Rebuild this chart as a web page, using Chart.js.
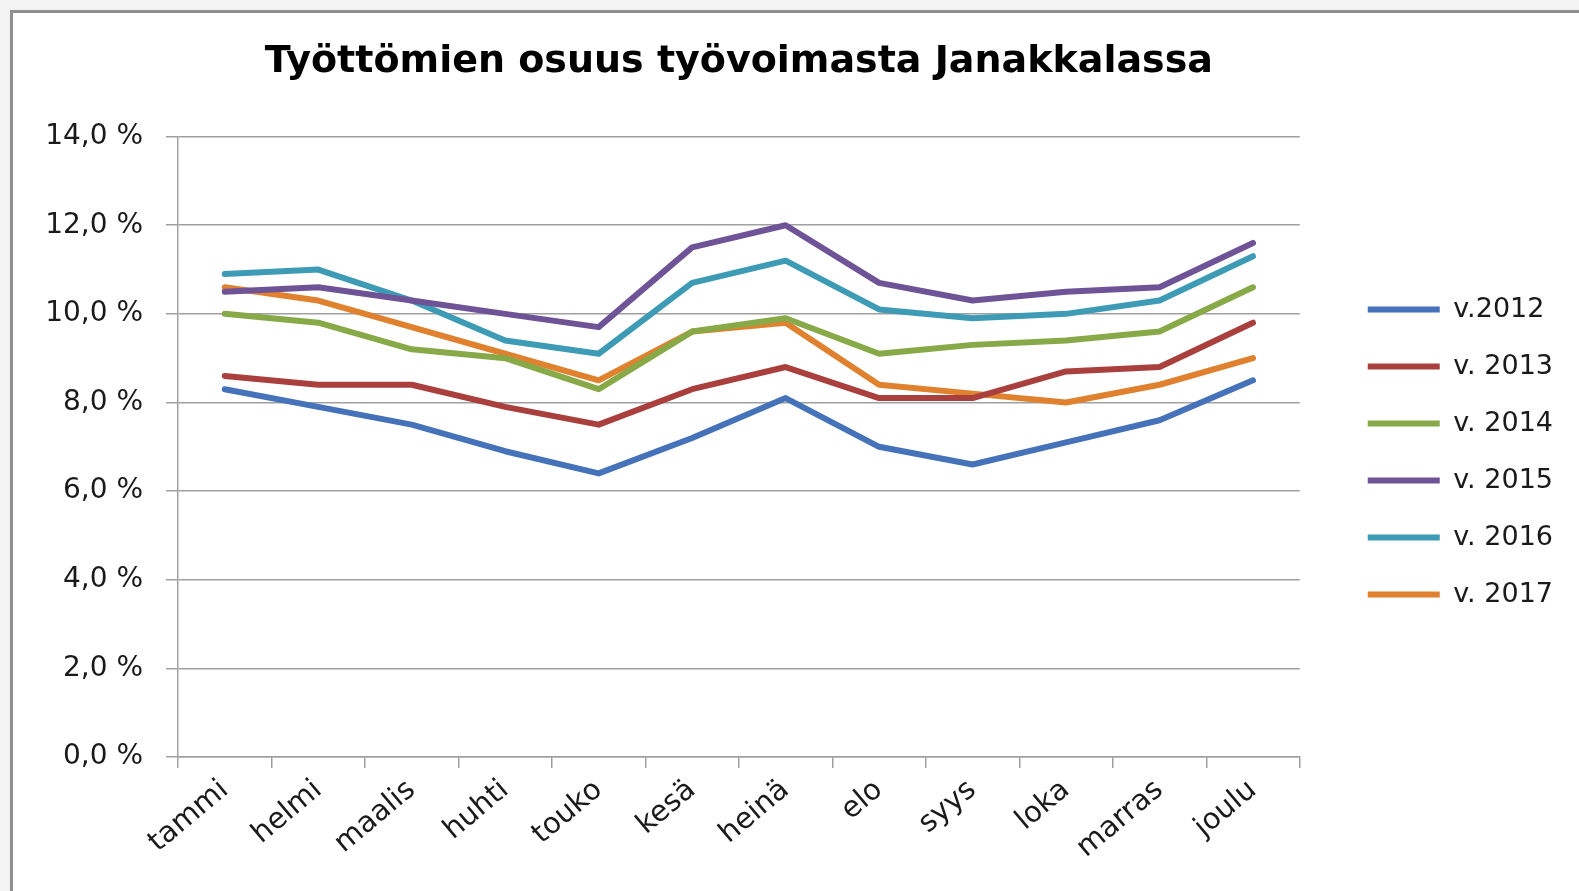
<!DOCTYPE html>
<html>
<head>
<meta charset="utf-8">
<script src="https://cdn.jsdelivr.net/npm/chart.js@4/dist/chart.umd.min.js"></script>
<style>
    html, body { margin: 0; padding: 0; background: #f3f3f3; }
    .frame {
        position: absolute;
        left: 10px;
        top: 10px;
        width: 1569px;
        height: 881px;
        border-left: 3px solid #8f8f8f;
        border-top: 3px solid #8f8f8f;
        background: #ffffff;
    }
    .chart-box { position: relative; width: 1566px; height: 878px; }
</style>
</head>
<body>
<div class="frame">
    <div class="chart-box"><canvas id="rateChart"></canvas></div>
</div>
<script>
const months = ['tammi', 'helmi', 'maalis', 'huhti', 'touko', 'kesä', 'heinä', 'elo', 'syys', 'loka', 'marras', 'joulu'];

const y2012 = [8.3, 7.9, 7.5, 6.9, 6.4, 7.2, 8.1, 7.0, 6.6, 7.1, 7.6, 8.5];
const y2013 = [8.6, 8.4, 8.4, 7.9, 7.5, 8.3, 8.8, 8.1, 8.1, 8.7, 8.8, 9.8];
const y2014 = [10.0, 9.8, 9.2, 9.0, 8.3, 9.6, 9.9, 9.1, 9.3, 9.4, 9.6, 10.6];
const y2015 = [10.5, 10.6, 10.3, 10.0, 9.7, 11.5, 12.0, 10.7, 10.3, 10.5, 10.6, 11.6];
const y2016 = [10.9, 11.0, 10.3, 9.4, 9.1, 10.7, 11.2, 10.1, 9.9, 10.0, 10.3, 11.3];
const y2017 = [10.6, 10.3, 9.7, 9.1, 8.5, 9.6, 9.8, 8.4, 8.2, 8.0, 8.4, 9.0];

const seriesLabels = ['v.2012', 'v. 2013', 'v. 2014', 'v. 2015', 'v. 2016', 'v. 2017'];
const yTicks = [0, 2, 4, 6, 8, 10, 12, 14];

const colors = {
    blue: '#4572b8',
    red: '#aa403d',
    green: '#87a947',
    purple: '#6f5397',
    cyan: '#3e9bb6',
    orange: '#e0812f',
    grid: '#a0a0a0',
    text: '#1a1a1a'
};

const FONT = "'DejaVu Sans', sans-serif";

function line(label, data, color) {
    return {
        label,
        data,
        borderColor: color,
        backgroundColor: color,
        borderWidth: 6,
        borderCapStyle: 'round',
        borderJoinStyle: 'round',
        pointRadius: 0,
        pointHoverRadius: 0,
        tension: 0,
        yAxisID: 'y'
    };
}

new Chart(document.getElementById('rateChart'), {
    type: 'line',
    data: {
        labels: months,
        datasets: [
            line(seriesLabels[0], y2012, colors.blue),
            line(seriesLabels[1], y2013, colors.red),
            line(seriesLabels[2], y2014, colors.green),
            line(seriesLabels[3], y2015, colors.purple),
            line(seriesLabels[4], y2016, colors.cyan),
            line(seriesLabels[5], y2017, colors.orange)
        ]
    },
    options: {
        responsive: true,
        maintainAspectRatio: false,
        animation: false,
        layout: { padding: { left: 20, right: 16, top: 0, bottom: 0 } },
        plugins: {
            tooltip: { enabled: false },
            title: {
                display: true,
                text: 'Työttömien osuus työvoimasta Janakkalassa',
                fullSize: false,
                color: '#000000',
                font: { family: FONT, size: 38, weight: 'bold' },
                padding: { top: 26, bottom: 52 }
            },
            legend: {
                position: 'right',
                labels: {
                    usePointStyle: true,
                    pointStyle: 'line',
                    pointStyleWidth: 72,
                    color: colors.text,
                    padding: 30,
                    font: { family: FONT, size: 27 }
                }
            }
        },
        scales: {
            x: {
                offset: true,
                grid: {
                    offset: true,
                    drawOnChartArea: false,
                    drawTicks: true,
                    tickLength: 11,
                    color: colors.grid,
                    lineWidth: 1.5
                },
                border: { color: colors.grid, width: 1.5 },
                ticks: {
                    color: colors.text,
                    font: { family: FONT, size: 29 },
                    minRotation: 40,
                    maxRotation: 40,
                    padding: 5,
                    autoSkip: false
                },
                afterFit: (scale) => { scale.height = 134; }
            },
            y: {
                min: 0,
                max: 14,
                afterBuildTicks: (scale) => { scale.ticks = yTicks.map((v) => ({ value: v })); },
                grid: {
                    color: colors.grid,
                    lineWidth: 1.5,
                    drawTicks: true,
                    tickLength: 12
                },
                border: { color: colors.grid, width: 1.5 },
                ticks: {
                    color: colors.text,
                    padding: 23,
                    font: { family: FONT, size: 28 },
                    callback: (value) => value.toFixed(1).replace('.', ',') + ' %'
                },
                afterFit: (scale) => { scale.width = 145; }
            },
            gap: {
                type: 'linear',
                position: 'right',
                display: true,
                grid: { display: false },
                border: { display: false },
                ticks: { display: false },
                afterFit: (scale) => { scale.width = 38; }
            }
        }
    }
});
</script>
</body>
</html>
